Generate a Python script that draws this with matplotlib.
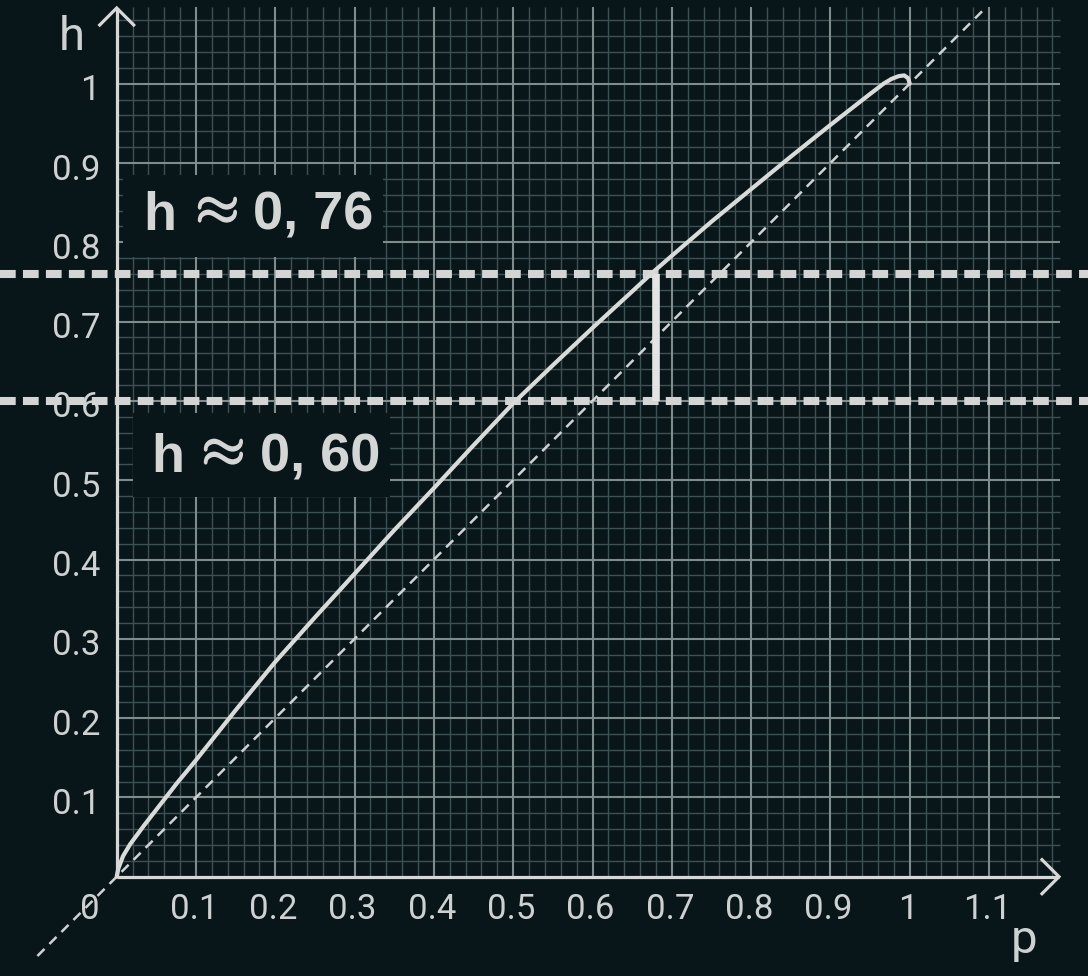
import matplotlib
matplotlib.use('Agg')
import matplotlib.pyplot as plt
from matplotlib.patches import Rectangle
import matplotlib.patheffects as pe
import numpy as np

# ---- data ----
p_vals = [0.0, 0.002, 0.008, 0.017, 0.034, 0.055, 0.076, 0.1, 0.15, 0.2, 0.25, 0.3, 0.35, 0.4,
          0.45, 0.5, 0.55, 0.6, 0.65, 0.677, 0.7, 0.75, 0.8, 0.85, 0.9, 0.95, 0.967,
          0.977, 0.986, 0.993, 0.998, 1.0]
h_vals = [0.0, 0.01, 0.026, 0.041, 0.064, 0.091, 0.118, 0.147, 0.21, 0.271, 0.327, 0.382, 0.437, 0.49,
          0.544, 0.597, 0.645, 0.692, 0.738, 0.763, 0.783, 0.826, 0.867, 0.908, 0.948, 0.987, 1.0,
          1.006, 1.0095, 1.0105, 1.007, 1.0]
x_ticks = [0.1, 0.2, 0.3, 0.4, 0.5, 0.6, 0.7, 0.8, 0.9, 1.0, 1.1]
x_tick_labels = ['0.1', '0.2', '0.3', '0.4', '0.5', '0.6', '0.7', '0.8', '0.9', '1', '1.1']
y_ticks = [0.1, 0.2, 0.3, 0.4, 0.5, 0.6, 0.7, 0.8, 0.9, 1.0]
y_tick_labels = ['0.1', '0.2', '0.3', '0.4', '0.5', '0.6', '0.7', '0.8', '0.9', '1']
h_levels = [0.76, 0.60]
level_values = ['0, 76', '0, 60']
p_mark = 0.68

# ---- layout ----
W, H = 1088, 976
X0, Y0, S = 116.7, 876.7, 793.0
BG = '#091619'
FG = '#d4d6d6'

def dx(px):
    return (px - X0) / S

def dy(py):
    return (Y0 - py) / S

fig = plt.figure(figsize=(W / 100, H / 100), dpi=100)
fig.patch.set_facecolor(BG)
ax = fig.add_axes([0, 0, 1, 1])
ax.set_facecolor(BG)
ax.set_xlim(dx(0), dx(W))
ax.set_ylim(dy(H), dy(0))
ax.axis('off')

xmax_grid = 1.19
ymax_grid = 1.097

# grid
minor = np.round(np.arange(0.02, 1.19, 0.02), 3)
minor_x = [v for v in minor if abs(v * 10 - round(v * 10)) > 1e-6]
minor_y = [v for v in minor if abs(v * 10 - round(v * 10)) > 1e-6 and v < 1.09]
ax.vlines(minor_x, 0, ymax_grid, color='#3d5155', lw=1.0, zorder=1)
ax.hlines(minor_y, 0, xmax_grid, color='#3d5155', lw=1.0, zorder=1)
ax.vlines(x_ticks, 0, ymax_grid, color='#7f8b8c', lw=1.5, zorder=1.5)
ax.hlines(y_ticks, 0, xmax_grid, color='#7f8b8c', lw=1.5, zorder=1.5)

# label boxes (cover the grid): box, h-left, approx-centre, value-left, baseline
boxes = [(123, 175, 383, 257, 143, 212, 253, 230),
         (133, 413, 390, 497, 151, 218, 260, 472)]
bold = dict(fontsize=39, fontweight='bold', family=['Liberation Sans', 'DejaVu Sans'],
            color=FG, zorder=6, va='baseline')
for (l, t, r, b, hx, axc, vx, base), val in zip(boxes, level_values):
    ax.add_patch(Rectangle((dx(l), dy(b)), dx(r) - dx(l), dy(t) - dy(b),
                           facecolor=BG, edgecolor='none', zorder=2))
    ax.text(dx(hx), dy(base), 'h', ha='left', **bold)
    ax.text(dx(axc), dy(base - 5), r'$\approx$', ha='center', va='baseline', fontsize=40,
            math_fontfamily='cm', color=FG, zorder=6,
            path_effects=[pe.withStroke(linewidth=1.6, foreground=FG)])
    ax.text(dx(vx), dy(base), val, ha='left', **bold)

# diagonal dashed reference line
ax.plot([-0.1, 1.094], [-0.1, 1.094], color='#d0d3d3', lw=1.8, dashes=(4, 2.8), zorder=3)

# horizontal dashed levels
for hv in h_levels:
    ax.plot([dx(0), dx(W)], [hv, hv], color='#d3d5d5', lw=5.8, dashes=(1.95, 0.9),
            solid_capstyle='butt', dash_capstyle='butt', zorder=3.5)

# vertical segment
ax.plot([p_mark, p_mark], [min(h_levels), max(h_levels)], color='#e2e3e3', lw=5.5,
        solid_capstyle='butt', zorder=4)

# curve
ax.plot(p_vals, h_vals, color='#d9dbdb', lw=3.0, solid_capstyle='round',
        solid_joinstyle='round', zorder=5)

# axes with open arrow heads
ax_col = '#d6d8d8'
xtip = dx(1059)
ytip = dy(8)
ax.plot([0, xtip], [0, 0], color=ax_col, lw=2.3, zorder=5.5, solid_capstyle='butt')
ax.plot([0, 0], [0, ytip], color=ax_col, lw=2.3, zorder=5.5, solid_capstyle='butt')
a = 17 / S
ax.plot([xtip - a, xtip, xtip - a], [a, 0, -a], color=ax_col, lw=2.3, zorder=5.5,
        solid_joinstyle='miter')
ax.plot([-a, 0, a], [ytip - a, ytip, ytip - a], color=ax_col, lw=2.3, zorder=5.5,
        solid_joinstyle='miter')

# tick labels
tick_font = dict(family=['Roboto', 'DejaVu Sans'], fontsize=25, color='#cdd1d1')
for v, lab in zip(y_ticks, y_tick_labels):
    ax.text(dx(100), v - 16.5 / S, lab, ha='right', va='baseline', **tick_font)
for v, lab in zip(x_ticks, x_tick_labels):
    ax.text(v - 2 / S, dy(919), lab, ha='center', va='baseline', **tick_font)
ax.text(dx(90), dy(919), '0', ha='center', va='baseline', **tick_font)

# axis names
ax.text(dx(72), dy(50), 'h', ha='center', va='baseline', family=['Roboto', 'DejaVu Sans'],
        fontsize=34, color='#cdd1d1')
ax.text(dx(1024), dy(953), 'p', ha='center', va='baseline', family=['Roboto', 'DejaVu Sans'],
        fontsize=34, color='#cdd1d1')

fig.savefig('out.png', dpi=100, facecolor=BG)
